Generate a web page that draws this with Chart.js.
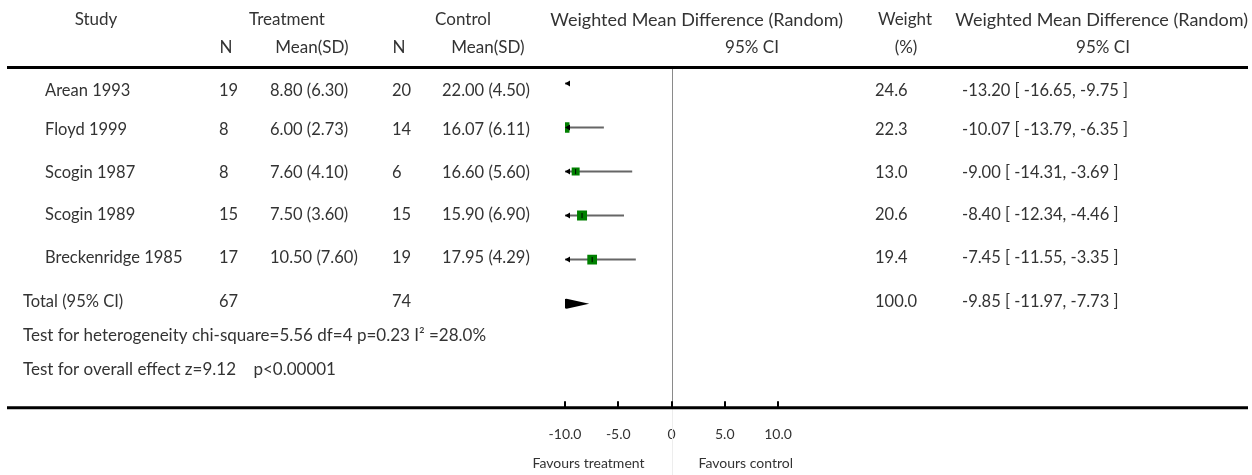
<!DOCTYPE html>
<html>
<head>
<meta charset="utf-8">
<script src="https://cdn.jsdelivr.net/npm/chart.js@4.4.1/dist/chart.umd.min.js"></script>
<style>
html,body{margin:0;padding:0;background:#ffffff;}
#wrap{width:1252px;height:475px;}
</style>
</head>
<body>
<div id="wrap"><canvas id="c" width="1252" height="475"></canvas></div>
<script>
// ---------------- data ----------------
const studies = ['Arean 1993', 'Floyd 1999', 'Scogin 1987', 'Scogin 1989', 'Breckenridge 1985'];
const treatN = [19, 8, 8, 15, 17];
const treatMean = [8.80, 6.00, 7.60, 7.50, 10.50];
const treatSD = [6.30, 2.73, 4.10, 3.60, 7.60];
const ctrlN = [20, 14, 6, 15, 19];
const ctrlMean = [22.00, 16.07, 16.60, 15.90, 17.95];
const ctrlSD = [4.50, 6.11, 5.60, 6.90, 4.29];
const weights = [24.6, 22.3, 13.0, 20.6, 19.4];
const wmd = [-13.20, -10.07, -9.00, -8.40, -7.45];
const ciLow = [-16.65, -13.79, -14.31, -12.34, -11.55];
const ciHigh = [-9.75, -6.35, -3.69, -4.46, -3.35];
const totalLabel = 'Total (95% CI)';
const totalTreatN = 67;
const totalCtrlN = 74;
const totalWeight = 100.0;
const totalWmd = -9.85;
const totalLow = -11.97;
const totalHigh = -7.73;
const heterogeneityText = 'Test for heterogeneity chi-square=5.56 df=4 p=0.23 I\u00B2 =28.0%';
const overallText = 'Test for overall effect z=9.12    p<0.00001';
const xTickValues = [-10, -5, 0, 5, 10];
const xTickLabels = ['-10.0', '-5.0', '0', '5.0', '10.0'];
const headerRow1 = ['Study', 'Treatment', 'Control', 'Weighted Mean Difference (Random)', 'Weight', 'Weighted Mean Difference (Random)'];
const headerRow2 = ['N', 'Mean(SD)', 'N', 'Mean(SD)', '95% CI', '(%)', '95% CI'];
const favoursLeft = 'Favours treatment';
const favoursRight = 'Favours control';

// ---------------- layout / style ----------------
const FONT = 'Lato, "Open Sans", "DejaVu Sans", sans-serif';
const TEXT_COLOR = '#333333';
const BODY_PX = 16.5;
const HEAD_PX = 17;
const WIDE_HEAD_PX = 18;
const totalRow = studies.length;
const rowTextY = [91, 130, 173, 215, 258, 302];
const footY = [336, 370];
const headY = [20, 48];

const f2 = v => v.toFixed(2);
const ciText = (m, l, h) => `${f2(m)} [ ${f2(l)}, ${f2(h)} ]`;

// ---------------- datasets ----------------
const ciDatasets = studies.map((s, i) => ({
  type: 'line',
  label: s + ' CI',
  data: [{x: ciLow[i], y: i}, {x: ciHigh[i], y: i}],
  borderColor: '#666666',
  borderWidth: 2,
  pointRadius: 0,
  clip: 0,
  order: 3
}));

const squareDataset = {
  type: 'scatter',
  label: 'WMD',
  data: studies.map((s, i) => ({x: wmd[i], y: i})),
  pointStyle: 'rect',
  pointRadius: ctx => 1.56 * Math.sqrt(weights[ctx.dataIndex] || 0),
  pointHoverRadius: ctx => 1.56 * Math.sqrt(weights[ctx.dataIndex] || 0),
  backgroundColor: '#008000',
  borderWidth: 0,
  clip: 0,
  order: 2
};

const tickMarkDataset = {
  type: 'scatter',
  label: 'estimate',
  data: studies.map((s, i) => ({x: wmd[i], y: i})),
  pointStyle: 'line',
  rotation: 90,
  pointRadius: 2.6,
  borderColor: '#000000',
  borderWidth: 1,
  clip: 0,
  order: 1
};

// ---------------- plugin for table + decorations ----------------
const forestPlugin = {
  id: 'forest',
  beforeDatasetsDraw(chart) {
    const {ctx, chartArea: a, scales: {x}} = chart;
    const x0 = Math.round(x.getPixelForValue(0)) + 0.5;
    ctx.save();
    ctx.strokeStyle = '#8a8a8a';
    ctx.lineWidth = 1;
    ctx.beginPath();
    ctx.moveTo(x0, a.top);
    ctx.lineTo(x0, a.bottom);
    ctx.stroke();
    ctx.strokeStyle = '#ededed';
    ctx.beginPath();
    ctx.moveTo(x0, a.bottom);
    ctx.lineTo(x0, chart.height);
    ctx.stroke();
    ctx.restore();
  },
  afterDatasetsDraw(chart) {
    const {ctx, chartArea: a, scales: {x, y}} = chart;
    ctx.save();
    // arrows for CIs beyond the left limit
    const xl = x.getPixelForValue(x.min);
    ctx.fillStyle = '#000';
    studies.forEach((s, i) => {
      if (ciLow[i] < x.min) {
        const py = y.getPixelForValue(i);
        ctx.beginPath();
        ctx.moveTo(xl, py);
        ctx.lineTo(xl + 5, py - 3);
        ctx.lineTo(xl + 5, py + 3);
        ctx.closePath();
        ctx.fill();
      }
    });
    // summary diamond (clipped to plot area)
    ctx.beginPath();
    ctx.rect(a.left, a.top, a.right - a.left, a.bottom - a.top);
    ctx.clip();
    const py = y.getPixelForValue(totalRow);
    ctx.beginPath();
    ctx.moveTo(x.getPixelForValue(totalLow), py);
    ctx.lineTo(x.getPixelForValue(totalWmd), py - 5);
    ctx.lineTo(x.getPixelForValue(totalHigh), py);
    ctx.lineTo(x.getPixelForValue(totalWmd), py + 5);
    ctx.closePath();
    ctx.fill();
    ctx.restore();
  },
  afterDraw(chart) {
    const {ctx, chartArea: a, scales: {x}} = chart;
    ctx.save();
    // thick rules
    ctx.strokeStyle = '#000';
    ctx.lineWidth = 3;
    ctx.beginPath();
    ctx.moveTo(7, a.top + 0.5); ctx.lineTo(1248, a.top + 0.5);
    ctx.moveTo(7, a.bottom + 0.5); ctx.lineTo(1248, a.bottom + 0.5);
    ctx.stroke();
    // upward tick marks
    ctx.lineWidth = 2;
    ctx.beginPath();
    x.ticks.forEach(t => {
      const px = Math.round(x.getPixelForValue(t.value));
      ctx.moveTo(px, a.bottom - 6);
      ctx.lineTo(px, a.bottom);
    });
    ctx.stroke();

    // table text
    ctx.fillStyle = TEXT_COLOR;
    ctx.textBaseline = 'middle';
    const put = (t, px, py, align) => { ctx.textAlign = align; ctx.fillText(t, px, py); };
    // headers
    ctx.font = HEAD_PX + 'px ' + FONT;
    put(headerRow1[0], 96, headY[0], 'center');
    put(headerRow1[1], 287, headY[0], 'center');
    put(headerRow1[2], 463, headY[0], 'center');
    put(headerRow1[4], 905, headY[0], 'center');
    put(headerRow2[0], 226, headY[1], 'center');
    put(headerRow2[1], 312, headY[1], 'center');
    put(headerRow2[2], 399, headY[1], 'center');
    put(headerRow2[3], 488, headY[1], 'center');
    put(headerRow2[4], 752, headY[1], 'center');
    put(headerRow2[5], 906, headY[1], 'center');
    put(headerRow2[6], 1103, headY[1], 'center');
    ctx.font = WIDE_HEAD_PX + 'px ' + FONT;
    put(headerRow1[3], 843, headY[0], 'right');
    put(headerRow1[5], 1248, headY[0], 'right');
    // study rows
    ctx.font = BODY_PX + 'px ' + FONT;
    studies.forEach((s, i) => {
      const ty = rowTextY[i];
      put(s, 45, ty, 'left');
      put(String(treatN[i]), 219, ty, 'left');
      put(`${f2(treatMean[i])} (${f2(treatSD[i])})`, 270, ty, 'left');
      put(String(ctrlN[i]), 392, ty, 'left');
      put(`${f2(ctrlMean[i])} (${f2(ctrlSD[i])})`, 442, ty, 'left');
      put(weights[i].toFixed(1), 875, ty, 'left');
      put(ciText(wmd[i], ciLow[i], ciHigh[i]), 962, ty, 'left');
    });
    // total row
    const ty = rowTextY[totalRow];
    put(totalLabel, 23, ty, 'left');
    put(String(totalTreatN), 219, ty, 'left');
    put(String(totalCtrlN), 392, ty, 'left');
    put(totalWeight.toFixed(1), 875, ty, 'left');
    put(ciText(totalWmd, totalLow, totalHigh), 962, ty, 'left');
    ctx.font = HEAD_PX + 'px ' + FONT;
    put(heterogeneityText, 23, footY[0], 'left');
    put(overallText, 23, footY[1], 'left');

    // favours labels
    const x0 = x.getPixelForValue(0);
    ctx.font = '14px ' + FONT;
    put(favoursLeft, x0 - 27, 463, 'right');
    put(favoursRight, x0 + 27, 463, 'left');
    ctx.restore();
  }
};

new Chart(document.getElementById('c'), {
  type: 'scatter',
  data: { datasets: [...ciDatasets, squareDataset, tickMarkDataset] },
  options: {
    responsive: false,
    animation: false,
    devicePixelRatio: 1,
    layout: { padding: { left: 565, right: 474, top: 67, bottom: 13 } },
    plugins: { legend: { display: false }, tooltip: { enabled: false } },
    events: [],
    scales: {
      x: {
        type: 'linear', min: -10, max: 10,
        afterBuildTicks: s => { s.ticks = xTickValues.map(v => ({ value: v })); },
        ticks: {
          callback: (v, i) => xTickLabels[i],
          font: { family: FONT, size: 14 },
          color: TEXT_COLOR,
          padding: 19,
          maxRotation: 0,
          autoSkip: false
        },
        grid: { display: false, drawTicks: false },
        border: { display: false }
      },
      y: { type: 'linear', display: false, reverse: true, min: -0.375, max: 7.352 }
    }
  },
  plugins: [forestPlugin]
});
</script>
</body>
</html>
